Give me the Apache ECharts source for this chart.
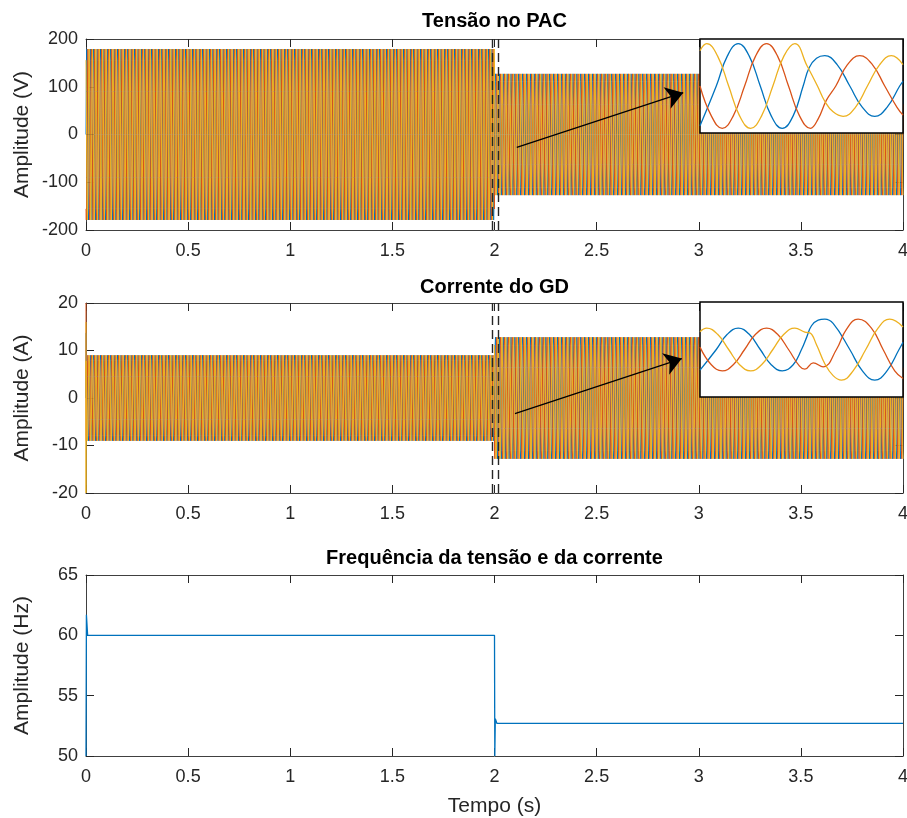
<!DOCTYPE html>
<html>
<head>
<meta charset="utf-8">
<script src="https://cdn.jsdelivr.net/npm/echarts@6/dist/echarts.min.js"></script>
<style>
  html, body { margin: 0; padding: 0; background: #fff; }
  #chart { width: 907px; height: 818px; }
</style>
</head>
<body>
<div id="chart"></div>
<script>
// ---- Data ----------------------------------------------------------------
// Time ticks (s)
const timeTicks = [0, 0.5, 1, 1.5, 2, 2.5, 3, 3.5, 4];
const voltageTicks = [-200, -100, 0, 100, 200];
const currentTicks = [-20, -10, 0, 10, 20];
const freqTicks = [50, 55, 60, 65];

// Operating segments: before and after the event at t = 2 s
const segmentStart = [0, 2];
const segmentEnd = [2, 4];
const segmentFreq = [60, 52.7];          // Hz
const voltagePeak = [179, 127];          // V
const currentPeak = [9, 12.8];           // A

// One period of a phase waveform, normalised to its peak
const cycleShape = [0, 0.5, 0.87, 1, 0.87, 0.5, 0, -0.5, -0.87, -1, -0.87, -0.5];
// Phase offset of phases a, b, c in samples of cycleShape
const phaseShift = [0, 8, 4];

// Inrush at start-up of the DG current [t, A]
const iaStart = [[0, 13.7]];
const ibStart = [[0, 20]];
const icStart = [[0, 16], [0, -20]];

// Measured frequency [s] / [Hz]
const freqTime = [0, 0.002, 0.008, 2.0, 2.0015, 2.004, 2.012, 4];
const freqValue = [50, 61.7, 60, 60, 50, 53.1, 52.7, 52.7];

// Detail around the event (t, V)
const vaDetail = [[1.98000,-169],[1.98305,0],[1.98511,127],[1.98716,180],[1.98922,127],[1.99128,0],[1.99333,-127],[1.99539,-180],[1.99744,-127],[1.99931,0],[2.00043,78],[2.00181,118],[2.00336,129],[2.00567,91],[2.00804,0],[2.01040,-91],[2.01271,-129],[2.01501,-91],[2.01738,0],[2.01800,20]];
const vbDetail = [[1.98000,0],[1.98212,-127],[1.98417,-180],[1.98623,-127],[1.98835,0],[1.99040,127],[1.99246,180],[1.99452,127],[1.99657,0],[1.99863,-127],[2.00068,-180],[2.00212,-140],[2.00367,-60],[2.00542,0],[2.00760,91],[2.00990,129],[2.01227,91],[2.01458,0],[2.01688,-91],[2.01800,-124]];
const vcDetail = [[1.98000,150],[1.98125,180],[1.98330,127],[1.98536,0],[1.98741,-127],[1.98947,-180],[1.99153,-127],[1.99364,0],[1.99570,127],[1.99776,180],[2.00006,85],[2.00199,0],[2.00336,-65],[2.00492,-110],[2.00679,-129],[2.00909,-91],[2.01134,0],[2.01364,91],[2.01582,129],[2.01800,91]];

// Detail around the event (t, A)
const iaDetail = [[1.98000,-8.7],[1.98305,0],[1.98511,6.4],[1.98716,9],[1.98922,6.4],[1.99128,0],[1.99333,-6.4],[1.99539,-9],[1.99744,-6.4],[1.99900,0],[1.99994,5],[2.00087,10],[2.00212,12.4],[2.00336,12.8],[2.00492,11],[2.00804,0],[2.01040,-9],[2.01271,-12.9],[2.01501,-9],[2.01726,0],[2.01800,3]];
const ibDetail = [[1.98000,1.0],[1.98212,-6.4],[1.98417,-9],[1.98623,-6.4],[1.98835,0],[1.99040,6.4],[1.99246,9],[1.99452,6.4],[1.99657,0],[1.99863,-7.0],[1.99962,-8.3],[2.00118,-5.6],[2.00305,-7.3],[2.00554,0],[2.00741,8.5],[2.00960,12.8],[2.01209,9],[2.01427,0],[2.01645,-9],[2.01800,-12.2]];
const icDetail = [[1.98000,7.5],[1.98125,9],[1.98330,6.4],[1.98536,0],[1.98741,-6.4],[1.98947,-9],[1.99153,-6.4],[1.99364,0],[1.99570,6.4],[1.99776,9],[1.99962,7.3],[2.00056,7.0],[2.00181,2],[2.00336,-6],[2.00492,-11],[2.00648,-12.9],[2.00866,-9],[2.01103,0],[2.01333,9],[2.01551,12.8],[2.01800,9.5]];

// Detail window and pointer arrows
const detailWindow = [1.985, 2.015];
const detailRange = [1.98, 2.018];
const voltageArrow = [[2.109, -26.8], [2.924, 87.5]];
const currentArrow = [[2.100, -3.28], [2.917, 8.3]];

// ---- Drawing -------------------------------------------------------------
const colors = ['#0072BD', '#D95319', '#EDB120'];
const FONT = '"Liberation Sans", Arial, Helvetica, sans-serif';
const AX = '#262626';

function phaseWave(peaks, shift) {
  const pts = [];
  const n = cycleShape.length;
  for (let s = 0; s < segmentFreq.length; s++) {
    const dt = 1 / (segmentFreq[s] * n);
    const count = Math.round((segmentEnd[s] - segmentStart[s]) / dt);
    for (let k = 0; k <= count; k++) {
      pts.push([segmentStart[s] + k * dt, peaks[s] * cycleShape[(k + shift) % n]]);
    }
  }
  return pts;
}

const mainGrids = [
  { left: 86, top: 39, width: 817, height: 191 },
  { left: 86, top: 303, width: 817, height: 190 },
  { left: 86, top: 575, width: 817, height: 181 }
];
const insetGrids = [
  { left: 700, top: 39, width: 203, height: 94 },
  { left: 700, top: 302, width: 203, height: 95 }
];

const grids = mainGrids.map(g => Object.assign({ outerBoundsMode: 'none' }, g))
  .concat(insetGrids.map(g => Object.assign({
    outerBoundsMode: 'none', show: true, backgroundColor: '#fff',
    borderColor: '#000', borderWidth: 1.5, z: 10
  }, g)));

const yRanges = [voltageTicks, currentTicks, freqTicks];
const xAxes = [], yAxes = [];
mainGrids.forEach((g, i) => {
  const common = {
    type: 'value', gridIndex: i,
    min: timeTicks[0], max: timeTicks[timeTicks.length - 1], interval: timeTicks[1] - timeTicks[0],
    axisLine: { show: true, onZero: false, lineStyle: { color: '#404040', width: 1 } },
    axisTick: { show: true, inside: true, length: 8, lineStyle: { color: AX } },
    splitLine: { show: false }
  };
  xAxes.push(Object.assign({}, common, {
    position: 'bottom',
    axisLabel: { show: true, margin: 12, fontSize: 18, color: AX, fontFamily: FONT }
  }));
  xAxes.push(Object.assign({}, common, { position: 'top', axisLabel: { show: false } }));
  const t = yRanges[i];
  const ycommon = {
    type: 'value', gridIndex: i, min: t[0], max: t[t.length - 1], interval: t[1] - t[0],
    axisLine: { show: true, onZero: false, lineStyle: { color: '#404040', width: 1 } },
    axisTick: { show: true, inside: true, length: 8, lineStyle: { color: AX } },
    splitLine: { show: false }
  };
  yAxes.push(Object.assign({}, ycommon, {
    position: 'left',
    axisLabel: { show: true, margin: 8, fontSize: 18, color: AX, fontFamily: FONT }
  }));
  yAxes.push(Object.assign({}, ycommon, { position: 'right', axisLabel: { show: false } }));
});
insetGrids.forEach((g, j) => {
  xAxes.push({ type: 'value', gridIndex: 3 + j, min: detailRange[0], max: detailRange[1], show: false, z: 11 });
  const lim = j === 0 ? 200 : 20;
  yAxes.push({ type: 'value', gridIndex: 3 + j, min: -lim, max: lim, show: false, z: 11 });
});

const series = [];
// Dense three-phase waveforms
const bandSets = [
  { peaks: voltagePeak, x: 0, y: 0, starts: [[], [], []] },
  { peaks: currentPeak, x: 2, y: 2, starts: [iaStart, ibStart, icStart] }
];
bandSets.forEach((b, bi) => {
  for (let p = 0; p < 3; p++) {
    const s = {
      type: 'line', xAxisIndex: b.x, yAxisIndex: b.y,
      data: b.starts[p].concat(phaseWave(b.peaks, phaseShift[p])),
      showSymbol: false, symbol: 'none', animation: false, silent: true,
      lineStyle: { color: colors[p], width: 1 }, z: 2, clip: true
    };
    if (p === 2) {
      s.markLine = {
        silent: true, animation: false, symbol: ['none', 'none'],
        label: { show: false },
        lineStyle: { color: '#262626', type: [9, 5], width: 1.4 },
        data: [{ xAxis: detailWindow[0] }, { xAxis: detailWindow[1] }]
      };
    }
    if (p === 1) {
      const a = bi === 0 ? voltageArrow : currentArrow;
      s.markLine = {
        silent: true, animation: false, symbol: ['none', 'arrow'], symbolSize: 17,
        label: { show: false },
        lineStyle: { color: '#000', type: 'solid', width: 1.3 },
        data: [[{ coord: a[0] }, { coord: a[1] }]]
      };
    }
    series.push(s);
  }
});
// Frequency
series.push({
  type: 'line', xAxisIndex: 4, yAxisIndex: 4,
  data: freqTime.map((t, i) => [t, freqValue[i]]),
  showSymbol: false, symbol: 'none', animation: false, silent: true,
  lineStyle: { color: colors[0], width: 1.3 }, z: 2
});
// Detail insets
[[vaDetail, vbDetail, vcDetail], [iaDetail, ibDetail, icDetail]].forEach((set, j) => {
  set.forEach((d, p) => {
    series.push({
      type: 'line', xAxisIndex: 6 + j, yAxisIndex: 6 + j, data: d,
      smooth: 0.45, showSymbol: false, symbol: 'none', animation: false, silent: true,
      lineStyle: { color: colors[p], width: 1.3 }, z: 12
    });
  });
});

const textStyle = (txt, size, weight, color) => ({
  text: txt, fontSize: size, fontWeight: weight, fontFamily: FONT, fill: color,
  align: 'center', verticalAlign: 'middle'
});
const graphics = [
  { type: 'text', x: 494.5, y: 21, style: textStyle('Tensão no PAC', 20, 'bold', '#000') },
  { type: 'text', x: 494.5, y: 287, style: textStyle('Corrente do GD', 20, 'bold', '#000') },
  { type: 'text', x: 494.5, y: 558, style: textStyle('Frequência da tensão e da corrente', 20, 'bold', '#000') },
  { type: 'text', x: 22, y: 134.5, rotation: Math.PI / 2, style: textStyle('Amplitude (V)', 21, 'normal', AX) },
  { type: 'text', x: 22, y: 398, rotation: Math.PI / 2, style: textStyle('Amplitude (A)', 21, 'normal', AX) },
  { type: 'text', x: 22, y: 665.5, rotation: Math.PI / 2, style: textStyle('Amplitude (Hz)', 21, 'normal', AX) },
  { type: 'text', x: 494.5, y: 806, style: textStyle('Tempo (s)', 21, 'normal', AX) }
];

const chart = echarts.init(document.getElementById('chart'), null, { renderer: 'canvas' });
chart.setOption({
  animation: false,
  backgroundColor: '#fff',
  grid: grids,
  xAxis: xAxes,
  yAxis: yAxes,
  series: series,
  graphic: graphics
});
</script>
</body>
</html>
